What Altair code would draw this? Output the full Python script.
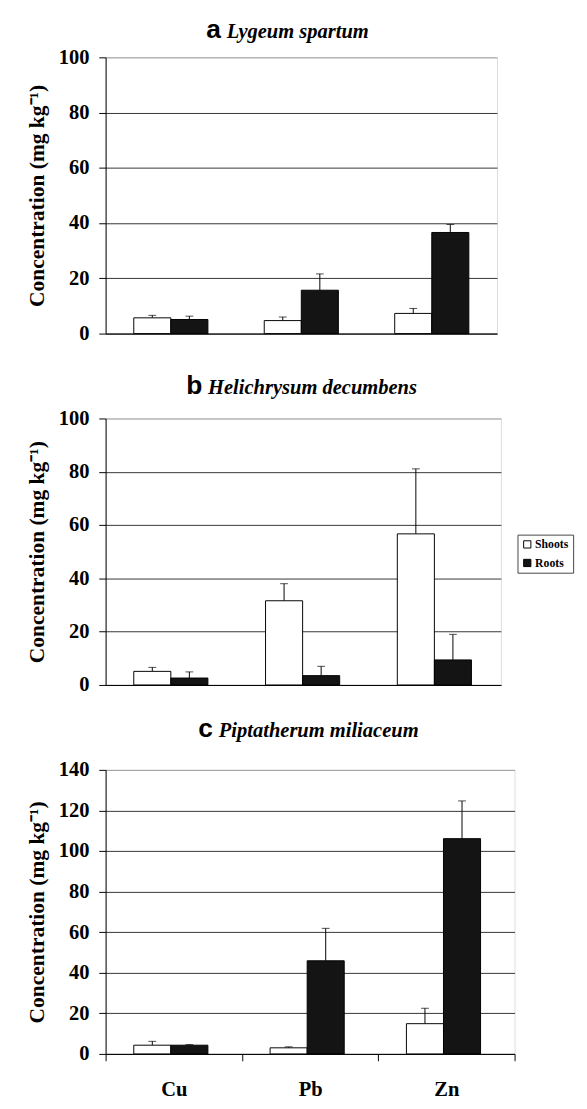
import altair as alt
import pandas as pd

metals = ["Cu", "Pb", "Zn"]
parts = ["Shoots", "Roots"]
letters = ["a", "b", "c"]
species = ["Lygeum spartum", "Helichrysum decumbens", "Piptatherum miliaceum"]

# order: Cu-Shoots, Cu-Roots, Pb-Shoots, Pb-Roots, Zn-Shoots, Zn-Roots
a_mean = [5.7, 5.1, 4.7, 15.7, 7.3, 36.6]
a_upper = [6.6, 6.3, 6.0, 21.6, 9.1, 39.5]
b_mean = [5.1, 2.6, 31.6, 3.5, 56.7, 9.4]
b_upper = [6.6, 4.9, 38.0, 7.0, 81.1, 19.0]
c_mean = [4.3, 4.3, 3.0, 45.9, 14.9, 106.1]
c_upper = [6.2, 4.6, 3.5, 61.9, 22.5, 124.7]
y_max = [100, 100, 140]

SERIF = "Liberation Serif"
SANS = "Liberation Sans"
YTITLE = "Concentration (mg kg\u207b\u00b9)"


def panel(idx, mean, upper, ymax, width, height, show_x, legend, title_y, letter_x):
    rows = []
    k = 0
    for m in metals:
        for p in parts:
            rows.append({"metal": m, "part": p, "value": mean[k], "upper": upper[k]})
            k += 1
    df = pd.DataFrame(rows)
    base = alt.Chart(df)

    if show_x:
        xaxis = alt.Axis(title=None, labelFont=SERIF, labelFontSize=21, labelFontWeight="bold",
                         labelColor="black", labelAngle=0, tickBand="extent", tickSize=7,
                         tickColor="black", labelPadding=19, domainColor="black", grid=False)
    else:
        xaxis = alt.Axis(title=None, labels=False, ticks=False, domainColor="black", grid=False)
    x = alt.X("metal:N", sort=metals, scale=alt.Scale(paddingInner=0, paddingOuter=0), axis=xaxis)
    xo = alt.XOffset("part:N", sort=parts, scale=alt.Scale(paddingInner=0, paddingOuter=0.76))
    yscale = alt.Scale(domain=[0, ymax], nice=False)
    yaxis = alt.Axis(title=YTITLE, values=list(range(0, ymax + 1, 20)),
                     labelFont=SERIF, labelFontSize=21, labelFontWeight="bold", labelColor="black",
                     labelPadding=10, tickSize=7, tickColor="black", domainColor="black",
                     gridColor={"condition": {"test": f"datum.value >= {ymax}", "value": "#999999"},
                                "value": "#333333"},
                     titleFont=SERIF, titleFontSize=22, titleFontWeight="bold", titleColor="black",
                     titlePadding=10)

    bars = base.mark_bar(stroke="black", strokeWidth=1).encode(
        x=x, xOffset=xo,
        y=alt.Y("value:Q", scale=yscale, axis=yaxis),
        fill=alt.Fill("part:N", sort=parts,
                      scale=alt.Scale(domain=parts, range=["white", "#141414"]),
                      legend=legend),
    )
    err = base.mark_rule(color="black", strokeWidth=1).encode(
        x=x, xOffset=xo,
        y=alt.Y("value:Q", scale=yscale, axis=yaxis), y2="upper:Q")
    cap = base.mark_tick(color="black", size=8, thickness=1).encode(
        x=x, xOffset=xo, y=alt.Y("upper:Q", scale=yscale, axis=yaxis))

    lt = alt.Chart(pd.DataFrame({"t": [letters[idx]]})).mark_text(
        font=SANS, fontWeight="bold", fontSize=27, align="right", baseline="alphabetic",
        color="black").encode(x=alt.value(letter_x), y=alt.value(title_y), text="t:N")
    st = alt.Chart(pd.DataFrame({"t": [species[idx]]})).mark_text(
        font=SERIF, fontWeight="bold", fontStyle="italic", fontSize=21, align="left",
        baseline="alphabetic", color="black").encode(
        x=alt.value(letter_x + 6), y=alt.value(title_y), text="t:N")

    return alt.layer(err, bars, cap, lt, st).properties(width=width, height=height)


legend_b = alt.Legend(orient="none", legendX=422, legendY=119, title=None, symbolType="square",
                      symbolSize=55, symbolStrokeColor="black", symbolStrokeWidth=1,
                      labelFont=SERIF, labelFontWeight="bold", labelFontSize=12, labelColor="black",
                      strokeColor="#444444", fillColor="white", padding=4, rowPadding=7,
                      labelOffset=2)

pa = panel(0, a_mean, a_upper, y_max[0], 401, 283, False, None, -20, 118)
pb = panel(1, b_mean, b_upper, y_max[1], 405, 273, False, legend_b, -25, 99)
pc = panel(2, c_mean, c_upper, y_max[2], 419, 291, True, None, -34, 110)

chart = alt.vconcat(pa, pb, pc, spacing=87, bounds="flush").resolve_scale(
    fill="independent").properties(
    padding={"left": 18, "top": -6, "right": 5, "bottom": 0}).configure_view(
    stroke="#aaaaaa", strokeWidth=1.5).configure(font=SERIF, background="white")

chart.save("out.html", embed_options={"renderer": "svg", "actions": False})
